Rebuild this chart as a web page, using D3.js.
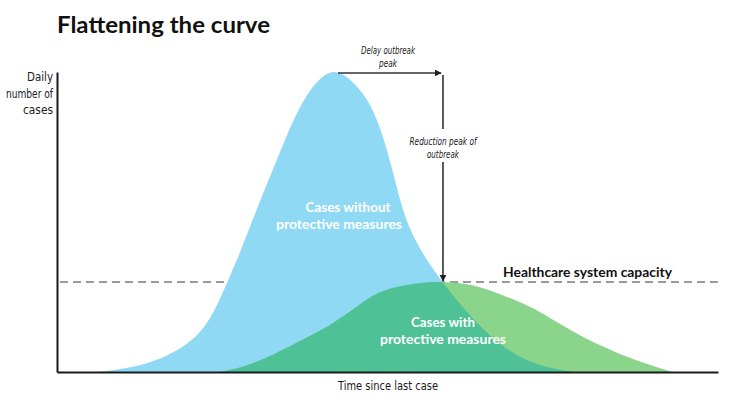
<!DOCTYPE html>
<html><head><meta charset="utf-8">
<script src="https://cdn.jsdelivr.net/npm/d3@7"></script>
<style>body{margin:0;background:#fff}svg{display:block}</style>
</head><body>
<svg id="c" width="733" height="403"></svg>
<script>
// Time (0-100) and daily cases (0-100)
const blueT = [6.51, 11.04, 15.58, 20.12, 22.39, 23.90, 25.72, 27.23, 29.20, 31.16, 33.28, 35.25, 37.52, 39.49, 41.75, 44.02, 46.29, 47.66, 48.87, 50.38, 51.59, 53.10, 55.67, 58.40, 61.42, 65.96, 70.05, 74.13, 78.37];
const blueV = [0, 1.33, 4, 9.67, 15, 20.67, 29.67, 37.33, 48.33, 59.67, 70.67, 81.67, 91.67, 97.5, 101, 98.5, 93, 88, 81.67, 70.67, 59.67, 48.33, 38, 29.67, 21.33, 10.67, 4.67, 1.33, 0];
const greenT = [24.66, 28.44, 32.68, 36.76, 39.03, 41.30, 43.57, 45.84, 48.11, 50.38, 54.16, 57.94, 61.72, 64.00, 67.02, 70.05, 72.62, 76.85, 80.64, 84.11, 88.20, 93.04];
const greenV = [0, 1.67, 5.67, 10.3, 12.9, 15.6, 18.9, 22.67, 26, 28, 29.6, 30.2, 29.5, 28.33, 26, 23.33, 20.67, 15, 10.33, 7, 3.33, 0];
const capacity = 30;
const title = "Flattening the curve";
const yLabel = ["Daily", "number of", "cases"];
const xLabel = "Time since last case";
const blueLabel = ["Cases without", "protective measures"];
const greenLabel = ["Cases with", "protective measures"];
const capacityLabel = "Healthcare system capacity";
const delayLabel = ["Delay outbreak", "peak"];
const reductionLabel = ["Reduction peak of", "outbreak"];

const svg = d3.select("#c");
const x = d3.scaleLinear().domain([0, 100]).range([57, 718]);
const y = d3.scaleLinear().domain([0, 100]).range([372, 72]);

const blue = blueT.map((t, i) => ({t, v: blueV[i]}));
const green = greenT.map((t, i) => ({t, v: greenV[i]}));
const area = d3.area().x(d => x(d.t)).y0(y(0)).y1(d => y(d.v)).curve(d3.curveBasis);

const defs = svg.append("defs");
defs.append("clipPath").attr("id", "blueClip").append("path").attr("d", area(blue));
defs.append("clipPath").attr("id", "plotClip").append("rect")
  .attr("x", x(0)).attr("y", 0).attr("width", x(100) - x(0)).attr("height", y(0));
const mk = defs.append("marker").attr("id", "arr").attr("viewBox", "0 0 10 10")
  .attr("refX", 9).attr("refY", 5).attr("markerWidth", 7).attr("markerHeight", 7)
  .attr("markerUnits", "userSpaceOnUse").attr("orient", "auto");
mk.append("path").attr("d", "M0,0L10,5L0,10Z").attr("fill", "#222");

// capacity line (under the areas)
svg.append("line").attr("x1", x(0) + 3).attr("x2", x(100)).attr("y1", y(capacity)).attr("y2", y(capacity))
  .attr("stroke", "#9a9a9a").attr("stroke-width", 2).attr("stroke-dasharray", "8,5");

const plot = svg.append("g").attr("clip-path", "url(#plotClip)");
plot.append("path").attr("d", area(blue)).attr("fill", "#8fd9f5");
plot.append("path").attr("d", area(green)).attr("fill", "#8bd48c");
plot.append("path").attr("d", area(green)).attr("fill", "#4ec196").attr("clip-path", "url(#blueClip)");

// axes
svg.append("g").attr("transform", `translate(0,${y(0)})`)
  .call(d3.axisBottom(x).tickValues([]).tickSizeOuter(0));
svg.append("g").attr("transform", `translate(${x(0)},0)`)
  .call(d3.axisLeft(y).tickValues([]).tickSizeOuter(0));
svg.selectAll(".domain").attr("stroke", "#1a1a1a").attr("stroke-width", 2);

const cond = "'DejaVu Sans Condensed', 'DejaVu Sans', sans-serif";
function txt(str, px, py, opts) {
  const t = svg.append("text").attr("x", px).attr("y", py).text(str)
    .attr("font-family", opts.family || cond).attr("font-size", opts.size)
    .attr("font-weight", opts.weight || "normal").attr("font-style", opts.style || "normal")
    .attr("fill", opts.fill || "#1a1a1a").attr("text-anchor", opts.anchor || "start");
  if (opts.len) t.attr("textLength", opts.len).attr("lengthAdjust", "spacingAndGlyphs");
  return t;
}

txt(title, 57, 33, {family: "Lato, sans-serif", size: 22.5, weight: "bold", len: 213, fill: "#111"});
yLabel.forEach((s, i) => txt(s, 53, 81 + i * 16.5, {size: 12, anchor: "end", len: [26, 47, 30][i]}));
txt(xLabel, 388, 390, {size: 12, anchor: "middle", len: 100});

// peaks
const bp = blue.reduce((a, b) => b.v > a.v ? b : a);
const gp = green.reduce((a, b) => b.v > a.v ? b : a);
const gx = x(gp.t) + 3;
const topY = y(100) + 1;
svg.append("line").attr("x1", x(bp.t) + 5).attr("x2", gx - 2).attr("y1", topY).attr("y2", topY)
  .attr("stroke", "#333").attr("stroke-width", 1.6).attr("marker-end", "url(#arr)");
svg.append("line").attr("x1", gx).attr("x2", gx).attr("y1", topY + 2).attr("y2", 129)
  .attr("stroke", "#333").attr("stroke-width", 1.6);
svg.append("line").attr("x1", gx).attr("x2", gx).attr("y1", 162).attr("y2", y(capacity) - 1)
  .attr("stroke", "#333").attr("stroke-width", 1.6).attr("marker-end", "url(#arr)");

txt(delayLabel[0], 388, 54, {size: 11, style: "italic", anchor: "middle", len: 54});
txt(delayLabel[1], 388, 67, {size: 11, style: "italic", anchor: "middle", len: 18});
txt(reductionLabel[0], 443, 145, {size: 11, style: "italic", anchor: "middle", len: 67});
txt(reductionLabel[1], 443, 158, {size: 11, style: "italic", anchor: "middle", len: 32});

const bold = "Lato, sans-serif";
txt(blueLabel[0], 348, 212, {family: bold, size: 13, weight: "bold", anchor: "middle", fill: "#fff", len: 85});
txt(blueLabel[1], 339, 229, {family: bold, size: 13, weight: "bold", anchor: "middle", fill: "#fff", len: 126});
txt(greenLabel[0], 443, 327, {family: bold, size: 13, weight: "bold", anchor: "middle", fill: "#fff", len: 64});
txt(greenLabel[1], 443, 344, {family: bold, size: 13, weight: "bold", anchor: "middle", fill: "#fff", len: 126});
txt(capacityLabel, 503, 277, {family: bold, size: 13, weight: "bold", fill: "#111", len: 169});
</script>
</body></html>
